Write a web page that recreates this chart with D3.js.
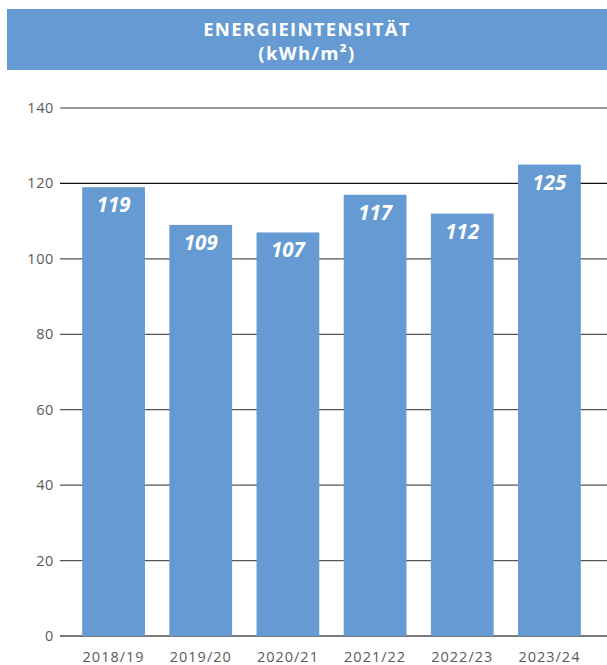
<!DOCTYPE html>
<html>
<head>
<meta charset="utf-8">
<script src="https://cdn.jsdelivr.net/npm/d3@7"></script>
<style>
  html, body { margin: 0; padding: 0; background: #fff; }
  svg { display: block; }
</style>
</head>
<body>
<svg id="chart" width="607" height="665"></svg>
<script>
// Energy intensity per fiscal year (kWh/m²)
const years = ["2018/19", "2019/20", "2020/21", "2021/22", "2022/23", "2023/24"];
const intensity = [119, 109, 107, 117, 112, 125];
const yTicks = [0, 20, 40, 60, 80, 100, 120, 140];
const titleLines = ["ENERGIEINTENSITÄT", "(kWh/m²)"];

const blue = "#659ad2";
const font = "'Open Sans', 'DejaVu Sans', sans-serif";

const svg = d3.select("#chart");

// Header band
svg.append("rect")
  .attr("x", 7).attr("y", 9)
  .attr("width", 600).attr("height", 61)
  .attr("fill", blue);

svg.selectAll("text.title")
  .data(titleLines)
  .join("text")
  .attr("class", "title")
  .attr("x", 307)
  .attr("y", (d, i) => 36 + i * 24)
  .attr("text-anchor", "middle")
  .attr("fill", "#fff")
  .attr("font-family", font)
  .attr("font-weight", 700)
  .attr("font-size", 18.5)
  .attr("letter-spacing", 1.3)
  .text(d => d);

// Scales
const y = d3.scaleLinear().domain([0, 140]).range([636, 108]);
const x = d3.scaleBand().domain(years).range([70, 593])
  .paddingInner(0.28).paddingOuter(0.14);

// Gridlines
const gridStyle = v => v === 0 ? { c: "#7a7a7a", w: 2 }
  : v === 140 ? { c: "#7a7a7a", w: 1.5 }
  : v === 120 ? { c: "#111", w: 1.2 }
  : { c: "#555", w: 1.2 };

svg.append("g").selectAll("line")
  .data(yTicks)
  .join("line")
  .attr("x1", 60).attr("x2", 607)
  .attr("y1", d => y(d)).attr("y2", d => y(d))
  .attr("stroke", d => gridStyle(d).c)
  .attr("stroke-width", d => gridStyle(d).w);

// Y tick labels
svg.append("g").selectAll("text")
  .data(yTicks)
  .join("text")
  .attr("x", 54)
  .attr("y", d => y(d) + 5)
  .attr("text-anchor", "end")
  .attr("fill", "#5a5a5a")
  .attr("font-family", font)
  .attr("font-size", 14.5)
  .attr("letter-spacing", 0.6)
  .text(d => d);

// Bars
const data = years.map((yr, i) => ({ yr, v: intensity[i] }));

svg.append("g").selectAll("rect")
  .data(data)
  .join("rect")
  .attr("x", d => x(d.yr))
  .attr("y", d => y(d.v))
  .attr("width", x.bandwidth())
  .attr("height", d => y(0) - y(d.v))
  .attr("fill", blue);

// Value labels inside bars
svg.append("g").selectAll("text")
  .data(data)
  .join("text")
  .attr("x", d => x(d.yr) + x.bandwidth() / 2)
  .attr("y", d => y(d.v) + 25)
  .attr("text-anchor", "middle")
  .attr("fill", "#fff")
  .attr("font-family", font)
  .attr("font-weight", 700)
  .attr("font-style", "italic")
  .attr("font-size", 20.5)
  .text(d => d.v);

// Category labels
svg.append("g").selectAll("text")
  .data(years)
  .join("text")
  .attr("x", d => x(d) + x.bandwidth() / 2)
  .attr("y", 662)
  .attr("text-anchor", "middle")
  .attr("fill", "#5a5a5a")
  .attr("font-family", font)
  .attr("font-size", 14.5)
  .attr("letter-spacing", 1)
  .text(d => d);
</script>
</body>
</html>
